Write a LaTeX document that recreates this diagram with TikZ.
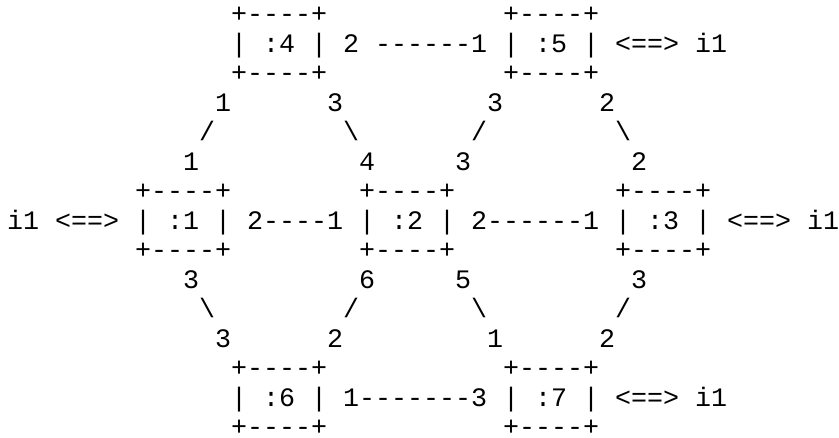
\documentclass[tikz,border=0pt]{standalone}
\usepackage{fontspec}
\setmonofont{Liberation Mono}
\newcommand\artpiece[4]{\node[txt] (#1) at (#2,#3) {#4};}
\begin{document}
\begin{tikzpicture}[x=16pt,y=-29.5pt,
  txt/.style={inner sep=0pt, outer sep=0pt, anchor=base west, text=black,
    text depth=0pt, font=\ttfamily\fontsize{26.667pt}{29.5pt}\selectfont}]
\fill[white] (0pt,0pt) rectangle (839pt,-437pt);
\path[use as bounding box] (0pt,0pt) rectangle (839pt,-437pt);
\begin{scope}[shift={(7pt,-22.6pt)}]
% row 1
\artpiece{b4t}{14}{0}{+----+}
\artpiece{b5t}{31}{0}{+----+}
% row 2
\artpiece{b4}{14}{1}{| :4 |}
\artpiece{e45}{21}{1}{2 ------1}
\artpiece{b5}{31}{1}{| :5 |}
\artpiece{i5}{38}{1}{<==> i1}
% row 3
\artpiece{b4b}{14}{2}{+----+}
\artpiece{b5b}{31}{2}{+----+}
% row 4
\artpiece{p41}{13}{3}{1}
\artpiece{p43}{20}{3}{3}
\artpiece{p53}{30}{3}{3}
\artpiece{p52}{37}{3}{2}
% row 5
\artpiece{e14}{12}{4}{/}
\artpiece{e24}{21}{4}{\textbackslash}
\artpiece{e25}{29}{4}{/}
\artpiece{e35}{38}{4}{\textbackslash}
% row 6
\artpiece{p11}{11}{5}{1}
\artpiece{p24}{22}{5}{4}
\artpiece{p23}{28}{5}{3}
\artpiece{p32}{39}{5}{2}
% row 7
\artpiece{b1t}{8}{6}{+----+}
\artpiece{b2t}{22}{6}{+----+}
\artpiece{b3t}{38}{6}{+----+}
% row 8
\artpiece{i1}{0}{7}{i1 <==>}
\artpiece{b1}{8}{7}{| :1 |}
\artpiece{e12}{15}{7}{2----1}
\artpiece{b2}{22}{7}{| :2 |}
\artpiece{e23}{29}{7}{2------1}
\artpiece{b3}{38}{7}{| :3 |}
\artpiece{i3}{45}{7}{<==> i1}
% row 9
\artpiece{b1b}{8}{8}{+----+}
\artpiece{b2b}{22}{8}{+----+}
\artpiece{b3b}{38}{8}{+----+}
% row 10
\artpiece{p13}{11}{9}{3}
\artpiece{p26}{22}{9}{6}
\artpiece{p25}{28}{9}{5}
\artpiece{p33}{39}{9}{3}
% row 11
\artpiece{e16}{12}{10}{\textbackslash}
\artpiece{e26}{21}{10}{/}
\artpiece{e27}{29}{10}{\textbackslash}
\artpiece{e37}{38}{10}{/}
% row 12
\artpiece{p63}{13}{11}{3}
\artpiece{p62}{20}{11}{2}
\artpiece{p71}{30}{11}{1}
\artpiece{p72}{37}{11}{2}
% row 13
\artpiece{b6t}{14}{12}{+----+}
\artpiece{b7t}{31}{12}{+----+}
% row 14
\artpiece{b6}{14}{13}{| :6 |}
\artpiece{e67}{21}{13}{1-------3}
\artpiece{b7}{31}{13}{| :7 |}
\artpiece{i7}{38}{13}{<==> i1}
% row 15
\artpiece{b6b}{14}{14}{+----+}
\artpiece{b7b}{31}{14}{+----+}
\end{scope}
\end{tikzpicture}
\end{document}
